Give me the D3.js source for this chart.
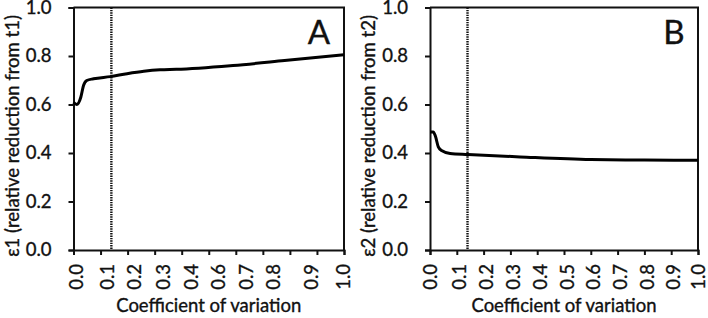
<html>

<head>
    <meta charset="utf-8">
    <title>Coefficient of variation</title>
    <style>
        body { margin: 0; background: #fff; }
        text { font-family: Lato, "Open Sans", sans-serif; fill: #111; stroke: #111; stroke-width: 0.35; }
    </style>
</head>

<body>
    <script src="https://cdn.jsdelivr.net/npm/d3@7"></script>
    <script>
        // panel A: epsilon1 against coefficient of variation
        var cvA = [0, 0.012, 0.027, 0.037, 0.049, 0.074, 0.136, 0.198, 0.26, 0.32, 0.38, 0.59, 0.78, 1.0];
        var epsA = [0.609, 0.600, 0.630, 0.678, 0.699, 0.706, 0.715, 0.727, 0.737, 0.743, 0.745, 0.761, 0.781, 0.805];
        // panel B: epsilon2 against coefficient of variation
        var cvB = [0, 0.012, 0.02, 0.031, 0.043, 0.075, 0.142, 0.336, 0.6, 0.8, 1.0];
        var epsB = [0.487, 0.487, 0.47, 0.425, 0.41, 0.398, 0.394, 0.384, 0.373, 0.371, 0.370];
        var cvMark = 0.14;

        var tickVals = [0, 0.1, 0.2, 0.3, 0.4, 0.5, 0.6, 0.7, 0.8, 0.9, 1.0];
        var yTicks = [0, 0.2, 0.4, 0.6, 0.8, 1.0];
        // panel A x labels are category labels, not on every tick
        var labelsA = ["0.0", "0.1", "0.2", "0.3", "0.4", "0.6", "0.7", "0.8", "0.9", "1.0"];
        var labelPosA = [0.01, 0.124, 0.225, 0.331, 0.434, 0.533, 0.636, 0.737, 0.879, 0.996];
        var labelsB = ["0.0", "0.1", "0.2", "0.3", "0.4", "0.5", "0.6", "0.7", "0.8", "0.9", "1.0"];
        var labelPosB = [0.0, 0.107, 0.209, 0.31, 0.409, 0.511, 0.61, 0.709, 0.809, 0.908, 1.0];

        var width = 708, height = 318;
        var fs = 18.5;
        var svg = d3.select("body").append("svg")
            .attr("width", width)
            .attr("height", height);

        function panel(opt) {
            var x = d3.scaleLinear().domain([0, 1]).range([opt.left, opt.right]);
            var y = d3.scaleLinear().domain([0, 1]).range([250, 7.5]);
            var g = svg.append("g");

            // frame top and right
            g.append("path")
                .attr("d", "M" + x(0) + "," + y(1) + "H" + x(1) + "V" + y(0))
                .attr("fill", "none")
                .attr("stroke", "#111")
                .attr("stroke-width", 2);

            var yAxis = g.append("g")
                .attr("transform", "translate(" + x(0) + ",0)")
                .call(d3.axisLeft(y).tickValues(yTicks).tickSize(5).tickFormat(d3.format(".1f")));
            var xAxis = g.append("g")
                .attr("transform", "translate(0," + y(0) + ")")
                .call(d3.axisBottom(x).tickValues(tickVals).tickSize(5).tickFormat(""));
            [yAxis, xAxis].forEach(function (a) {
                a.selectAll("path, line").attr("stroke", "#111").attr("stroke-width", 2);
            });
            yAxis.selectAll("text")
                .attr("x", -22)
                .attr("font-size", fs)
                .attr("fill", "#111");

            g.selectAll(".xl")
                .data(opt.labels)
                .enter()
                .append("text")
                .attr("class", "xl")
                .attr("transform", function (d, i) {
                    return "translate(" + x(opt.labelPos[i]) + ",264) rotate(-90)";
                })
                .attr("text-anchor", "end")
                .attr("dominant-baseline", "central")
                .attr("font-size", fs)
                .text(function (d) { return d; });

            g.append("text")
                .attr("x", (x(0) + x(1)) / 2)
                .attr("y", 312)
                .attr("text-anchor", "middle")
                .attr("font-size", fs)
                .text("Coefficient of variation");

            g.append("text")
                .attr("transform", "translate(" + opt.titleX + ",136) rotate(-90)")
                .attr("text-anchor", "middle")
                .attr("dominant-baseline", "central")
                .attr("font-size", fs)
                .text(opt.title);

            // dotted marker
            g.append("line")
                .attr("x1", x(cvMark)).attr("x2", x(cvMark))
                .attr("y1", y(1)).attr("y2", y(0))
                .attr("stroke", "#111")
                .attr("stroke-width", 2.4)
                .attr("stroke-dasharray", "1.4,1");

            var line = d3.line()
                .x(function (d) { return x(d[0]); })
                .y(function (d) { return y(d[1]); })
                .curve(d3.curveMonotoneX);
            g.append("path")
                .datum(d3.zip(opt.cv, opt.eps))
                .attr("d", line)
                .attr("fill", "none")
                .attr("stroke", "#000")
                .attr("stroke-width", 3);

            g.append("text")
                .attr("x", opt.letterX)
                .attr("y", 44)
                .attr("text-anchor", "middle")
                .attr("font-size", 33)
                .text(opt.letter);
        }

        panel({ left: 73.5, right: 344, cv: cvA, eps: epsA, labels: labelsA, labelPos: labelPosA,
            title: "ε1 (relative reduction from t1)", titleX: 12, letter: "A", letterX: 319 });
        panel({ left: 430, right: 698, cv: cvB, eps: epsB, labels: labelsB, labelPos: labelPosB,
            title: "ε2 (relative reduction from t2)", titleX: 368, letter: "B", letterX: 674 });
    </script>
</body>

</html>
